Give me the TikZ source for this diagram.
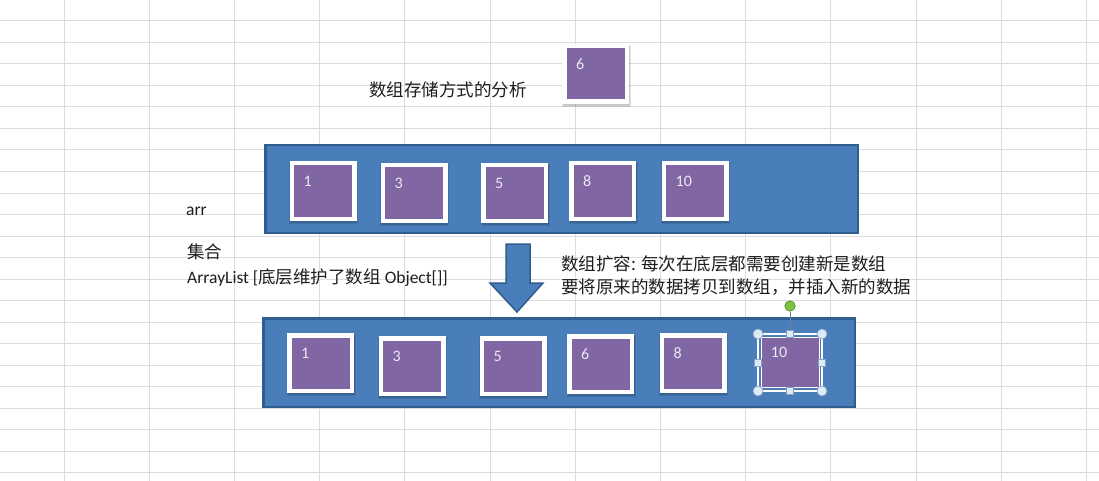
\documentclass[tikz,border=0pt]{standalone}
\usepackage{fontspec}
\setmainfont{Carlito}
\newfontfamily\cjkfont{Noto Sans CJK SC}
\usetikzlibrary{calc}
\definecolor{gridc}{HTML}{DCDCDC}
\definecolor{blueF}{HTML}{4A7EBB}
\definecolor{blueD}{HTML}{2F5D8E}
\definecolor{purp}{HTML}{8066A3}
\definecolor{numc}{HTML}{EEE8F4}
\definecolor{txt}{HTML}{1E1E1E}
\definecolor{hdlF}{HTML}{DDEBF6}
\definecolor{hdlD}{HTML}{8AA3BC}
\definecolor{rotF}{HTML}{7DC242}
\definecolor{rotD}{HTML}{4F8A2A}
\newcommand{\zhtxt}[1]{{\cjkfont #1}}
\tikzset{
  gridline/.style={draw=gridc, line width=1pt},
  blk/.style={rectangle, fill=blueF, draw=blueD, line width=2.5pt, inner sep=0pt},
  cell/.style={rectangle, fill=purp, draw=white, line width=4.5pt, inner sep=0pt,
    minimum width=62.5pt, minimum height=55.5pt,
    preaction={draw=black, fill=black, draw opacity=0.10, fill opacity=0.10, line width=6.5pt,
      transform canvas={xshift=0.8pt, yshift=-1.6pt}},
    preaction={draw=black, fill=black, draw opacity=0.12, fill opacity=0.12, line width=4.5pt,
      transform canvas={xshift=0.8pt, yshift=-1.8pt}}},
  cellsel/.style={rectangle, fill=purp, draw=white, line width=1.5pt, inner sep=0pt,
    minimum width=58pt, minimum height=50pt},
  selframe/.style={rectangle, draw=hdlD, double=white, double distance=1.4pt, line width=0.6pt,
    inner sep=0pt, outer sep=0pt, minimum width=64pt, minimum height=57pt},
  hcirc/.style={circle, fill=hdlF, draw=hdlD, line width=0.6pt, inner sep=0pt, minimum size=10pt},
  hsq/.style={rectangle, fill=hdlF, draw=hdlD, line width=0.6pt, inner sep=0pt, minimum size=7pt},
  rothdl/.style={circle, fill=rotF, draw=rotD, line width=0.6pt, inner sep=0pt, minimum size=10.5pt},
  rotline/.style={draw=hdlD!80!black, line width=0.8pt},
  num/.style={text=numc, inner sep=0pt, anchor=west, font=\fontsize{16}{18}\selectfont},
  lbl/.style={text=txt, inner sep=0pt, anchor=west, font=\fontsize{17.5}{20}\selectfont},
  arrowshape/.style={fill=blueF, draw=blueD, line width=1.5pt, line join=miter}
}
\begin{document}
\begin{tikzpicture}[x=1pt, y=-1pt]
\useasboundingbox (0,0) rectangle (1099,481);
\fill[white] (0,0) rectangle (1099,481);
% spreadsheet grid
\foreach \i in {0,...,12} \draw[gridline] ({64+85.2*\i},0) -- ({64+85.2*\i},481);
\foreach \j in {0,...,22} \draw[gridline] (0,{-0.5+21.5*\j}) -- (1099,{-0.5+21.5*\j});

% texts
\node[lbl] (title) at (369,90) {\zhtxt{数组存储方式的分析}};
\node[lbl] (arr) at (186,211) {arr};
\node[lbl] (jh) at (187,252) {\zhtxt{集合}};
\node[lbl] (al) at (187,278) {ArrayList [\zhtxt{底层维护了数组} Object[]]};
\node[lbl] (r1) at (561,264) {\zhtxt{数组扩容: 每次在底层都需要创建新是数组}};
\node[lbl] (r2) at (561,287) {\zhtxt{要将原来的数据拷贝到数组，并插入新的数据}};

% floating cell 6
\node[cell] (t6) at (595.5,74) {};
\node[num] (t6n) at ($(t6.north west)+(14,20)$) {6};

% top array
\node[blk, minimum width=592.5pt, minimum height=87.5pt] (top) at (561.5,189) {};
\foreach \n/\x/\y in {1/323/191, 3/414/193, 5/514.5/193, 8/602.5/191, 10/695/191} {
  \node[cell] (t\n) at (\x,\y) {};
  \node[num] (t\n n) at ($(t\n.north west)+(14,20)$) {\n};
}

% expansion arrow
\draw[arrowshape] (506,244) -- (530,244) -- (530,283) -- (543,283) -- (517,312) -- (490,283) -- (506,283) -- cycle;

% bottom array
\node[blk, minimum width=591.5pt, minimum height=88.5pt] (bot) at (559,362.5) {};
\foreach \n/\x/\y in {1/320.5/363, 3/412/366, 5/513/366, 6/600.5/364, 8/693/363} {
  \node[cell] (b\n) at (\x,\y) {};
  \node[num] (b\n n) at ($(b\n.north west)+(14,20)$) {\n};
}
\node[cellsel] (b10) at (790.5,362.5) {};
\node[num] (b10n) at ($(b10.north west)+(10,16)$) {10};
% selection frame and handles
\node[selframe] (sel) at (790,362.5) {};
\node[rothdl] (rot) at ($(sel.north)+(0,-28)$) {};
\draw[rotline] (rot) -- (sel.north);
\foreach \a/\k in {north west/1, north east/2, south west/3, south east/4}
  \node[hcirc] (hc\k) at (sel.\a) {};
\foreach \a/\k in {north/1, south/2, east/3, west/4}
  \node[hsq] (hs\k) at (sel.\a) {};
\end{tikzpicture}
\end{document}
